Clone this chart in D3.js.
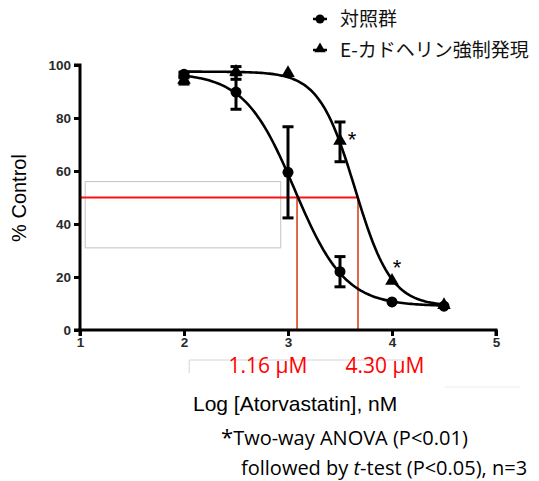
<!DOCTYPE html>
<html>
<head>
<meta charset="utf-8">
<script src="https://cdn.jsdelivr.net/npm/d3@7/dist/d3.min.js"></script>
<style>
  body { margin: 0; background: #fff; }
  svg { display: block; }
</style>
</head>
<body>
<div id="chart"></div>
<script>
// log concentrations (nM) tested
const logDose = [2, 2.5, 3, 3.5, 4, 4.5];
// control group, mean and SD
const ctrlMean = [96.5, 89.8, 59.5, 22, 10.6, 9];
const ctrlSd = [0.8, 6.5, 17.2, 5.7, 0, 0];
// E-cadherin overexpression, mean and SD
const ecadMean = [94, 97, 96.6, 71, 18.2, 9];
const ecadSd = [1.2, 2.4, 0, 7.5, 0, 0];
// fitted 4PL curve parameters: top, bottom, logIC50, hill
const ctrlFit = [97, 9, 3.064, 1.8];
const ecadFit = [97.5, 9, 3.645, 2.5];
// IC50 guide lines
const ic50Log = [3.087, 3.673];
const ic50Text = ["1.16 μM", "4.30 μM"];
// asterisks (significance) centres, in data units
const starX = [3.615, 4.048];
const starY = [73.6, 25.3];
const xTicks = [1, 2, 3, 4, 5];
const yTicks = [0, 20, 40, 60, 80, 100];
const legendNames = ["対照群", "E-カドヘリン強制発現"];

const W = 539, H = 481;
const svg = d3.select("#chart").append("svg")
    .attr("width", W)
    .attr("height", H)
    .style("background", "#fff");

const x = d3.scaleLinear().domain([1, 5]).range([80, 496]);
const y = d3.scaleLinear().domain([0, 100]).range([330, 65]);

// faint leftover boxes seen in the source image
svg.append("rect")
    .attr("x", x(1.05)).attr("y", y(56))
    .attr("width", x(2.93) - x(1.05)).attr("height", y(31) - y(56))
    .attr("fill", "none").attr("stroke", "#c4c4c4").attr("stroke-width", 1);
svg.append("path")
    .attr("d", `M${x(2.05)},373 V360 H${x(4.11)} V367`)
    .attr("fill", "none").attr("stroke", "#d6d6d6").attr("stroke-width", 1);
svg.append("line")
    .attr("x1", 445).attr("x2", 520).attr("y1", 387).attr("y2", 387)
    .attr("stroke", "#ececec");

// red IC50 guides
svg.append("line")
    .attr("x1", x(1)).attr("x2", x(ic50Log[1]))
    .attr("y1", y(50)).attr("y2", y(50))
    .attr("stroke", "#ff1010").attr("stroke-width", 2);
ic50Log.forEach(v => {
    svg.append("line")
        .attr("x1", x(v)).attr("x2", x(v))
        .attr("y1", y(50)).attr("y2", y(0))
        .attr("stroke", "#d9441c").attr("stroke-width", 1.6);
});

// axes
const axX = svg.append("g")
    .attr("transform", `translate(0,${y(0)})`)
    .call(d3.axisBottom(x).tickValues(xTicks).tickSize(6).tickPadding(1).tickFormat(d3.format("d")));
const axY = svg.append("g")
    .attr("transform", `translate(${x(1)},0)`)
    .call(d3.axisLeft(y).tickValues(yTicks).tickSize(6).tickPadding(3));
[axX, axY].forEach(g => {
    g.select(".domain").attr("stroke", "#000").attr("stroke-width", 3);
    g.selectAll(".tick line").attr("stroke", "#000").attr("stroke-width", 3);
    g.selectAll(".tick text")
        .attr("fill", "#2a2a2a")
        .style("font-family", "'Liberation Sans', Arial, sans-serif")
        .style("font-weight", "bold")
        .style("font-size", "13.5px");
});
axX.select(".domain").attr("d", `M${x(1)},6V0H${x(5)}V6`);
axY.select(".domain").attr("d", `M-6,${y(100)}H0V${y(0)}H-6`);

// fitted curves
const fourPL = p => v => p[1] + (p[0] - p[1]) / (1 + Math.pow(10, (v - p[2]) * p[3]));
const grid = d3.range(2, 4.5001, 0.02);
[ctrlFit, ecadFit].forEach(p => {
    const f = fourPL(p);
    svg.append("path")
        .datum(grid)
        .attr("d", d3.line().x(d => x(d)).y(d => y(f(d))))
        .attr("fill", "none")
        .attr("stroke", "#000")
        .attr("stroke-width", 2.6);
});

// error bars
function errorBars(means, sds) {
    means.forEach((m, i) => {
        if (!sds[i]) return;
        const g = svg.append("g").attr("stroke", "#000").attr("stroke-width", 3);
        const cx = x(logDose[i]);
        g.append("line").attr("x1", cx).attr("x2", cx).attr("y1", y(m - sds[i])).attr("y2", y(m + sds[i]));
        g.append("line").attr("x1", cx - 5.5).attr("x2", cx + 5.5).attr("y1", y(m - sds[i])).attr("y2", y(m - sds[i]));
        g.append("line").attr("x1", cx - 5.5).attr("x2", cx + 5.5).attr("y1", y(m + sds[i])).attr("y2", y(m + sds[i]));
    });
}
errorBars(ctrlMean, ctrlSd);
errorBars(ecadMean, ecadSd);

// markers
const tri = d3.symbol().type(d3.symbolTriangle).size(80);
svg.selectAll(".tri")
    .data(ecadMean)
    .enter().append("path")
    .attr("d", tri)
    .attr("transform", (d, i) => `translate(${x(logDose[i])},${y(d) - 1})`)
    .attr("fill", "#000");
svg.selectAll(".dot")
    .data(ctrlMean)
    .enter().append("circle")
    .attr("cx", (d, i) => x(logDose[i]))
    .attr("cy", d => y(d))
    .attr("r", 5.5)
    .attr("fill", "#000");

// significance marks
starX.forEach((v, i) => {
    svg.append("text")
        .attr("x", x(v))
        .attr("y", y(starY[i]))
        .attr("dy", 12)
        .attr("text-anchor", "middle")
        .attr("font-family", "'Liberation Sans', Arial, sans-serif")
        .attr("font-size", 22)
        .text("*");
});

// IC50 labels
ic50Text.forEach((t, i) => {
    svg.append("text")
        .attr("x", [268, 385][i])
        .attr("y", 373)
        .attr("text-anchor", "middle")
        .attr("fill", "#ff0000")
        .attr("font-family", "'Open Sans', sans-serif")
        .attr("font-size", 21)
        .text(t);
});

// axis titles
svg.append("text")
    .attr("transform", "translate(26,198) rotate(-90)")
    .attr("text-anchor", "middle")
    .attr("font-family", "'Liberation Sans', Arial, sans-serif")
    .attr("font-size", 20)
    .text("% Control");
svg.append("text")
    .attr("x", 193).attr("y", 411)
    .attr("font-family", "'Liberation Sans', Arial, sans-serif")
    .attr("font-size", 21)
    .text("Log [Atorvastatin], nM");

// footnote
const note = svg.append("g")
    .attr("font-family", "'Open Sans', sans-serif")
    .attr("font-size", 20);
const n1 = note.append("text").attr("x", 221).attr("y", 445);
n1.append("tspan").attr("font-size", 22).text("*");
n1.append("tspan").text("Two-way ANOVA (P<0.01)");
const n2 = note.append("text").attr("x", 241).attr("y", 475);
n2.append("tspan").text("followed by ");
n2.append("tspan").attr("font-style", "italic").text("t");
n2.append("tspan").text("-test (P<0.05), n=3");

// legend
const leg = svg.append("g");
legendNames.forEach((name, i) => {
    const ly = 19 + i * 31;
    leg.append("line")
        .attr("x1", 313).attr("x2", 327).attr("y1", ly).attr("y2", ly)
        .attr("stroke", "#000").attr("stroke-width", 2.5);
    if (i == 0) {
        leg.append("circle").attr("cx", 320).attr("cy", ly).attr("r", 4.5).attr("fill", "#000");
    } else {
        leg.append("path").attr("d", d3.symbol().type(d3.symbolTriangle).size(55))
            .attr("transform", `translate(320,${ly - 1})`).attr("fill", "#000");
    }
    leg.append("text")
        .attr("x", 340).attr("y", ly)
        .attr("dy", "0.35em")
        .attr("font-family", "'Noto Sans CJK JP', sans-serif")
        .attr("font-size", 19)
        .attr("fill", "#111")
        .text(name);
});
</script>
</body>
</html>
